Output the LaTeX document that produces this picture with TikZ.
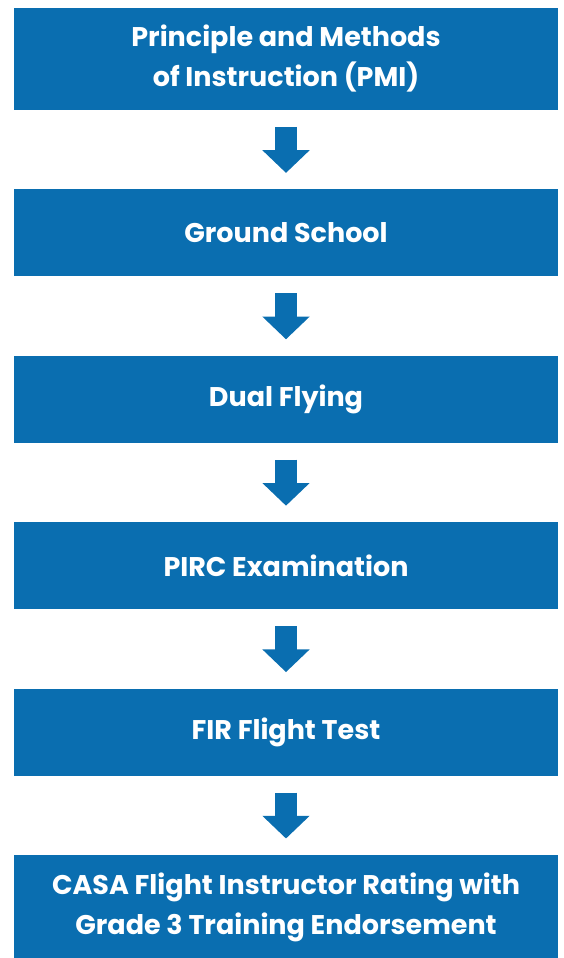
\documentclass[tikz,border=0pt]{standalone}
\usepackage{fontspec}
\setmainfont{Poppins}
\usepackage{tikz}
\usetikzlibrary{positioning,arrows.meta}
\definecolor{flowblue}{RGB}{10,110,176}

\begin{document}
\begin{tikzpicture}[every node/.style={font=\fontsize{27}{40}\selectfont\bfseries,text=white},
    stepbox/.style={fill=flowblue,minimum width=544pt,minimum height=87pt,inner sep=0pt,align=center,node distance=79pt},
    flowarrow/.style={draw=flowblue,line width=22.7pt,shorten <=16.7pt,shorten >=16.3pt,
      -{Triangle[length=22.7pt,width=46pt]}}]
    \useasboundingbox (0pt,0pt) rectangle (563pt,-958pt);
    \node[stepbox,minimum height=102pt] (pmi) at (286pt,-59pt) {Principle and Methods\\of Instruction (PMI)};
    \node[stepbox,below=of pmi] (ground) {Ground School};
    \node[stepbox,below=of ground] (dual) {Dual Flying};
    \node[stepbox,below=of dual] (pirc) {PIRC Examination};
    \node[stepbox,below=of pirc] (fir) {FIR Flight Test};
    \node[stepbox,minimum height=105pt,below=of fir] (casa) {CASA Flight Instructor Rating with\\Grade 3 Training Endorsement};
    \draw[flowarrow] (pmi) -- (ground);
    \draw[flowarrow] (ground) -- (dual);
    \draw[flowarrow] (dual) -- (pirc);
    \draw[flowarrow] (pirc) -- (fir);
    \draw[flowarrow] (fir) -- (casa);
  \end{tikzpicture}
\end{document}
